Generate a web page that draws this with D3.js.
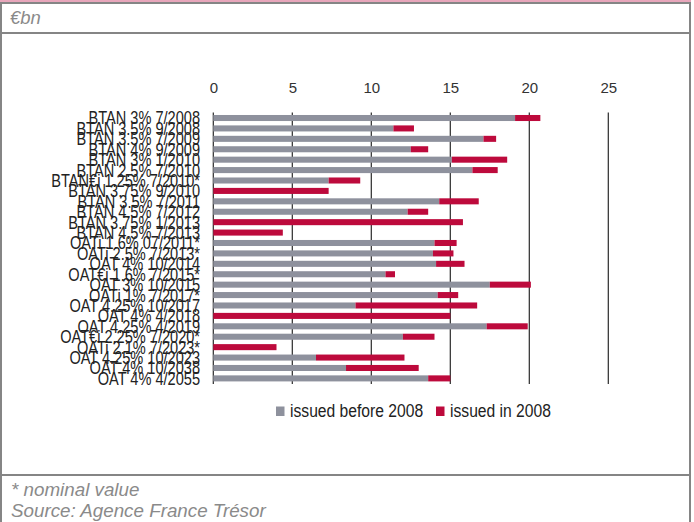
<!DOCTYPE html>
<html>
<head>
<meta charset="utf-8">
<script src="https://cdn.jsdelivr.net/npm/d3@7"></script>
<style>
  html, body { margin: 0; padding: 0; background: #fff; }
  svg { display: block; }
</style>
</head>
<body>
<svg id="chart" width="694" height="522"></svg>
<script>
// Bond lines, top to bottom
const bonds = [
  "BTAN 3% 7/2008", "BTAN 3.5% 9/2008", "BTAN 3.5% 7/2009", "BTAN 4% 9/2009",
  "BTAN 3% 1/2010", "BTAN 2.5% 7/2010", "BTAN€i 1.25% 7/2010*", "BTAN 3.75% 9/2010",
  "BTAN 3.5% 7/2011", "BTAN 4.5% 7/2012", "BTAN 3.75% 1/2013", "BTAN 4.5% 7/2013",
  "OATi 1.6% 07/2011*", "OATi 2.5% 7/2013*", "OAT 4% 10/2014", "OAT€i 1.6% 7/2015*",
  "OAT 3% 10/2015", "OATi 1% 7/2017*", "OAT 4.25% 10/2017", "OAT 4% 4/2018",
  "OAT 4.25% 4/2019", "OAT€i 2.25% 7/2020*", "OATi 2.1% 7/2023*", "OAT 4.25% 10/2023",
  "OAT 4% 10/2038", "OAT 4% 4/2055"
];

// Outstanding amounts, €bn
const issuedBefore2008 = [
  19.1, 11.4, 17.1, 12.5, 15.1, 16.4, 7.3, 0, 14.3, 12.3, 0, 0,
  14.0, 13.9, 14.1, 10.9, 17.5, 14.2, 9.0, 0, 17.3, 12.0, 0, 6.5, 8.4, 13.6
];
const issuedIn2008 = [
  1.6, 1.3, 0.8, 1.1, 3.5, 1.6, 2.0, 7.3, 2.5, 1.3, 15.8, 4.4,
  1.4, 1.3, 1.8, 0.6, 2.6, 1.3, 7.7, 15.0, 2.6, 2.0, 4.0, 5.6, 4.6, 1.4
];

const xTicks = [0, 5, 10, 15, 20, 25];
const seriesNames = ["issued before 2008", "issued in 2008"];
const colors = ["#8e919d", "#bd0a3c"];

const svg = d3.select("#chart");
const sans = "Liberation Sans, Arial, sans-serif";

// Frame
svg.append("rect").attr("x", 0).attr("y", 0).attr("width", 691).attr("height", 2.5).attr("fill", "#e8a6bb");
svg.append("rect").attr("x", 1).attr("y", 3).attr("width", 689).attr("height", 522)
  .attr("fill", "none").attr("stroke", "#858585").attr("stroke-width", 2);
svg.append("line").attr("x1", 0).attr("x2", 691).attr("y1", 33).attr("y2", 33)
  .attr("stroke", "#858585").attr("stroke-width", 2);
svg.append("line").attr("x1", 0).attr("x2", 691).attr("y1", 475).attr("y2", 475)
  .attr("stroke", "#858585").attr("stroke-width", 2);

svg.append("text").attr("x", 10).attr("y", 24)
  .attr("font-family", sans).attr("font-style", "italic")
  .attr("font-size", 18.5).attr("fill", "#8a8a8a").text("€bn");

svg.append("text").attr("x", 11).attr("y", 496).attr("font-family", sans)
  .attr("font-style", "italic").attr("font-size", 18.8).attr("fill", "#8a8a8a").text("* nominal value");
svg.append("text").attr("x", 11).attr("y", 516.5).attr("font-family", sans)
  .attr("font-style", "italic").attr("font-size", 18.8).attr("fill", "#8a8a8a").text("Source: Agence France Trésor");

// Scales
const x = d3.scaleLinear().domain([0, 25]).range([213.3, 608.3]);
const y = d3.scaleBand().domain(bonds).range([112.8, 383.6]).paddingInner(0.42).paddingOuter(0.21);

// Vertical gridlines
svg.append("g").selectAll("line").data(xTicks).join("line")
  .attr("x1", d => x(d)).attr("x2", d => x(d))
  .attr("y1", 112.5).attr("y2", 384)
  .attr("stroke", "#2a2a2a").attr("stroke-width", 1.2);

// Top axis labels
const xAxis = d3.axisTop(x).tickValues(xTicks).tickSize(0).tickPadding(0);
const gx = svg.append("g").attr("transform", "translate(0,93)").call(xAxis);
gx.select(".domain").remove();
gx.selectAll("text").attr("font-family", sans).attr("font-size", 15)
  .attr("fill", "#333").attr("dy", 0);

// Stacked bars
const stackData = bonds.map((b, i) => ({ bond: b, before: issuedBefore2008[i], in2008: issuedIn2008[i] }));
const stacked = d3.stack().keys(["before", "in2008"])(stackData);

svg.append("g").selectAll("g").data(stacked).join("g")
  .attr("fill", (d, i) => colors[i])
  .selectAll("rect").data(d => d).join("rect")
  .attr("x", d => x(d[0]))
  .attr("width", d => Math.max(0, x(d[1]) - x(d[0])))
  .attr("y", d => y(d.data.bond))
  .attr("height", y.bandwidth());

// Category labels, condensed horizontally
const yAxis = d3.axisLeft(y).tickSize(0).tickPadding(0);
const gy = svg.append("g").attr("transform", "translate(200,0)").call(yAxis);
gy.select(".domain").remove();
gy.selectAll("text").attr("font-family", sans).attr("font-size", 18)
  .attr("fill", "#222").attr("dy", "0.36em").attr("transform", "scale(0.81,1)");

// Legend
const legendX = [276, 436];
const leg = svg.append("g");
seriesNames.forEach((name, i) => {
  leg.append("rect").attr("x", legendX[i]).attr("y", 406.5).attr("width", 8.5).attr("height", 9.5).attr("fill", colors[i]);
  leg.append("text").attr("transform", `translate(${legendX[i] + 14},417) scale(0.87,1)`)
    .attr("font-family", sans).attr("font-size", 18).attr("fill", "#222").text(name);
});
</script>
</body>
</html>
